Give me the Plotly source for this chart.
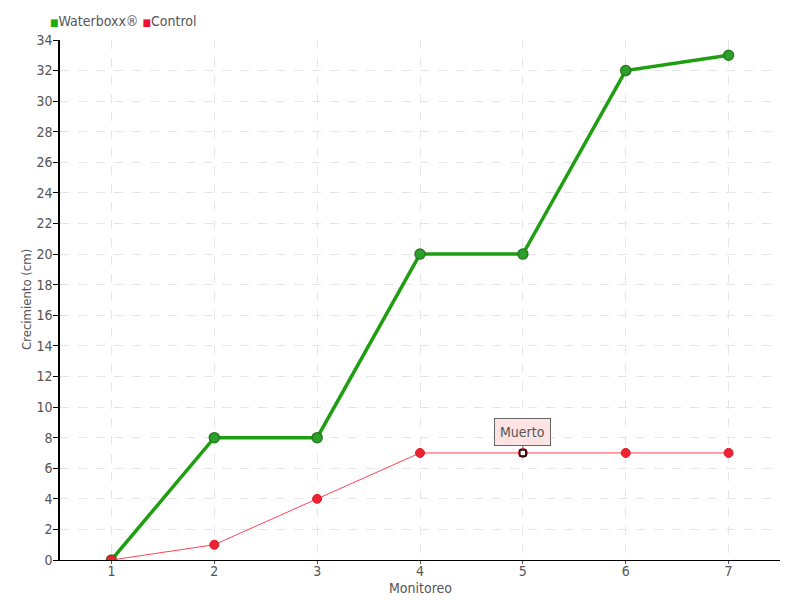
import plotly.graph_objects as go

monitoreo = [1, 2, 3, 4, 5, 6, 7]
waterboxx = [0, 8, 8, 20, 20, 32, 33]
control = [0, 1, 4, 7, 7, 7, 7]
muerto_idx = 4
y_ticks = list(range(0, 35, 2))

GREEN = "#1f9e12"
GREEN_DARK = "#2a7a22"
RED = "#ee2233"
FONT = "DejaVu Sans Condensed, Liberation Sans Narrow, DejaVu Sans"
TXT = "#555555"

fig = go.Figure()
fig.add_trace(go.Scatter(
    x=monitoreo, y=waterboxx, mode="lines+markers", name="Waterboxx®",
    line=dict(color=GREEN, width=3.5),
    marker=dict(size=10, color="#2ca02c", line=dict(color=GREEN_DARK, width=1.5))))
fig.add_trace(go.Scatter(
    x=monitoreo, y=control, mode="lines+markers", name="Control",
    line=dict(color="#ff4455", width=1),
    marker=dict(size=9, color=RED, line=dict(color="#dd1a2a", width=1))))
fig.add_trace(go.Scatter(
    x=[monitoreo[muerto_idx]], y=[control[muerto_idx]], mode="markers",
    marker=dict(symbol="square", size=6, color="white", line=dict(color="black", width=1.5)),
    hoverinfo="skip"))

fig.add_annotation(
    xref="paper", yref="paper", x=-0.016, y=1.0, yshift=9, xanchor="left", yanchor="bottom",
    showarrow=False,
    text="<span style='color:#22aa11;font-size:10px'>■</span>Waterboxx® "
         "<span style='color:#ee1133;font-size:10px'>■</span>Control",
    font=dict(family=FONT, size=14, color=TXT))

fig.add_annotation(
    xref="paper", yref="paper", x=0.5, y=0, yshift=-28, xanchor="center", yanchor="middle",
    showarrow=False, text="Monitoreo", font=dict(family=FONT, size=14, color=TXT))
fig.add_annotation(
    xref="paper", yref="paper", x=0, y=0.5, xshift=-34, xanchor="center", yanchor="middle",
    textangle=-90, showarrow=False, text="Crecimiento (cm)",
    font=dict(family=FONT, size=13, color=TXT))

fig.add_annotation(
    x=monitoreo[muerto_idx], y=control[muerto_idx], text="Muerto",
    showarrow=True, arrowhead=0, arrowwidth=1, arrowcolor="#666666",
    ax=0, ay=-21, standoff=3,
    bgcolor="#fde3e3", bordercolor="#666666", borderwidth=1, borderpad=5,
    font=dict(family=FONT, size=14, color=TXT))

fig.update_layout(
    width=800, height=600,
    margin=dict(l=60, r=20, t=40, b=40),
    paper_bgcolor="white", plot_bgcolor="white",
    showlegend=False,
    font=dict(family=FONT, size=14, color=TXT),
    xaxis=dict(
        range=[0.5, 7.5], tickvals=monitoreo, ticktext=[str(v) for v in monitoreo],
        showgrid=True, gridcolor="#e6e6e6", griddash="dash", gridwidth=1,
        showline=True, linecolor="black", linewidth=1,
        ticks="outside", ticklen=3, tickcolor="#555555",
        ticklabelstandoff=-5, tickfont=dict(size=14),
        zeroline=False, automargin=False),
    yaxis=dict(
        range=[0, 34], tickvals=y_ticks,
        showgrid=True, gridcolor="#e6e6e6", griddash="dash", gridwidth=1,
        showline=True, linecolor="black", linewidth=1.5,
        ticks="outside", ticklen=5, tickcolor="black",
        ticklabelstandoff=-2, tickfont=dict(size=14),
        zeroline=False, automargin=False),
)

fig.write_html("out.html", config={"displayModeBar": False},
               post_script="document.body.style.margin='0';document.body.style.overflow='hidden';")
